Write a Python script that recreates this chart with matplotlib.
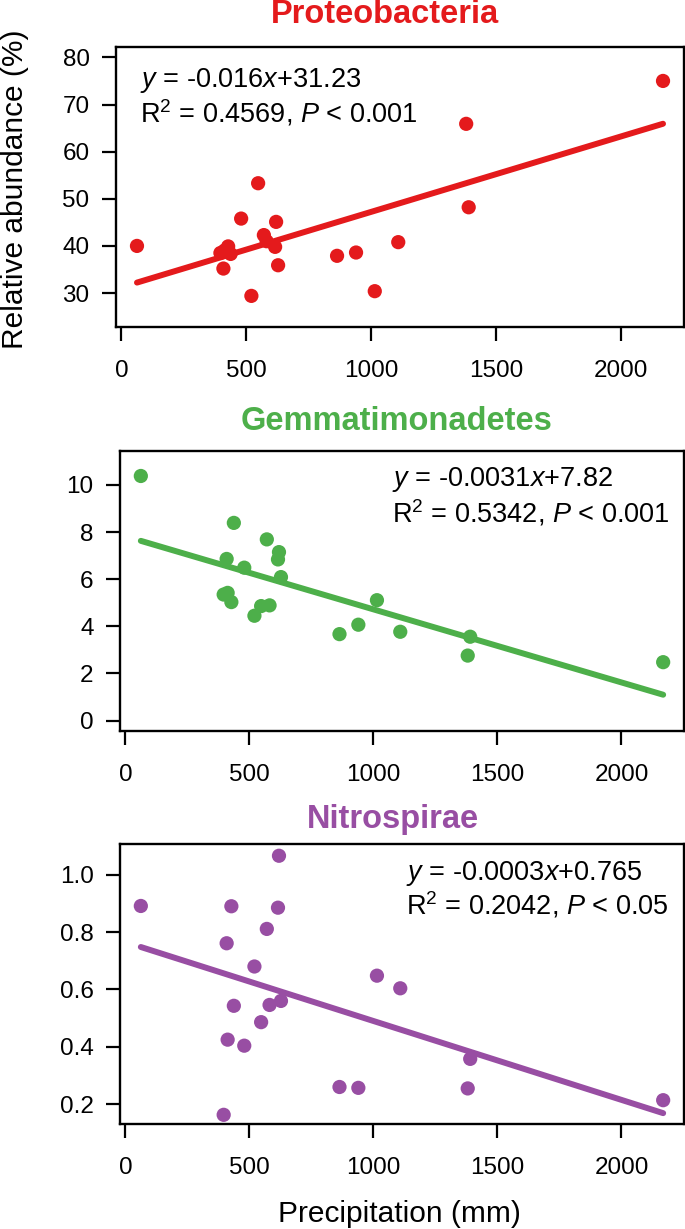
import matplotlib
matplotlib.use("Agg")
import matplotlib.pyplot as plt
import numpy as np

plt.rcParams['font.family'] = ['Liberation Sans', 'DejaVu Sans']
plt.rcParams['mathtext.fontset'] = 'custom'
plt.rcParams['mathtext.rm'] = 'Liberation Sans'
plt.rcParams['mathtext.it'] = 'Liberation Sans:italic'
plt.rcParams['mathtext.bf'] = 'Liberation Sans:bold'

# ---------------- data ----------------
precip = [62, 396, 408, 412, 427, 437, 479, 520, 547, 570, 581,
          615, 619, 627, 863, 939, 1014, 1108, 1380, 1390, 2168]

proteobacteria = [40.0, 38.5, 35.2, 39.0, 39.9, 38.3, 45.8, 29.4, 53.3, 42.3, 41.0,
                  39.8, 45.1, 35.9, 37.9, 38.6, 30.4, 40.8, 65.9, 48.2, 75.0]
gemmatimonadetes = [10.38, 5.35, 6.86, 5.42, 5.03, 8.39, 6.49, 4.45, 4.86, 7.69, 4.89,
                    6.84, 7.15, 6.09, 3.67, 4.07, 5.11, 3.77, 2.76, 3.56, 2.48]
nitrospirae = [0.891, 0.163, 0.761, 0.425, 0.890, 0.543, 0.404, 0.680, 0.486, 0.811, 0.546,
               0.885, 1.066, 0.560, 0.260, 0.257, 0.648, 0.604, 0.255, 0.358, 0.214]

titles = ["Proteobacteria", "Gemmatimonadetes", "Nitrospirae"]
colors = ["#E41A1C", "#4DAF4A", "#984EA3"]
slopes = [0.016, -0.0031, -0.000275]
intercepts = [31.23, 7.82, 0.765]
eq_texts = [r"$\it{y}$ = -0.016$\it{x}$+31.23",
            r"$\it{y}$ = -0.0031$\it{x}$+7.82",
            r"$\it{y}$ = -0.0003$\it{x}$+0.765"]
stat_texts = [r"R$^2$ = 0.4569, $\it{P}$ < 0.001",
              r"R$^2$ = 0.5342, $\it{P}$ < 0.001",
              r"R$^2$ = 0.2042, $\it{P}$ < 0.05"]
yticks_list = [[30, 40, 50, 60, 70, 80],
               [0, 2, 4, 6, 8, 10],
               [0.2, 0.4, 0.6, 0.8, 1.0]]
ytick_labels = [["30", "40", "50", "60", "70", "80"],
                ["0", "2", "4", "6", "8", "10"],
                ["0.2", "0.4", "0.6", "0.8", "1.0"]]
xticks = [0, 500, 1000, 1500, 2000]
xtick_labels = ["0", "500", "1000", "1500", "2000"]
series = [proteobacteria, gemmatimonadetes, nitrospirae]

# ---------------- layout (pixels) ----------------
W, H = 685, 1229
fig = plt.figure(figsize=(W / 100, H / 100), dpi=100)

boxes = [(116, 684, 47, 327), (120, 684, 451, 731), (120, 684, 844, 1124)]
ylims = [(22.8, 82.2), (-0.44, 11.44), (0.131, 1.107)]
title_pos = [(385, 23), (397, 430), (393, 828)]
ann_pos = [(140, 87, 123), (392, 486, 522), (406, 880, 915)]

def fx(px):
    return px / W

def fy(py):
    return 1 - py / H

for i in range(3):
    l, r, t, b = boxes[i]
    ax = fig.add_axes([fx(l), fy(b), (r - l) / W, (b - t) / H])
    xs = np.array(precip)
    ys = np.array(series[i])
    xl = np.array([xs.min(), xs.max()])
    ax.plot(xl, slopes[i] * xl + intercepts[i], color=colors[i], lw=4.3,
            solid_capstyle='round', zorder=2)
    ax.scatter(xs, ys, s=105, color=colors[i], edgecolors='none', zorder=3)
    ax.set_xlim(-22, 2252)
    ax.set_ylim(*ylims[i])
    ax.set_xticks(xticks)
    ax.set_xticklabels(xtick_labels)
    ax.set_yticks(yticks_list[i])
    ax.set_yticklabels(ytick_labels[i])
    for s in ax.spines.values():
        s.set_linewidth(1.7)
        s.set_color('black')
    ax.tick_params(axis='both', direction='out', length=10, width=1.6,
                   labelsize=17.5, colors='black')
    ax.tick_params(axis='x', pad=14)
    ax.tick_params(axis='y', pad=9)

    tx, ty = title_pos[i]
    fig.text(fx(tx), fy(ty), titles[i], color=colors[i], fontsize=23.5,
             fontweight='bold', ha='center', va='baseline')
    ax_x, b1, b2 = ann_pos[i]
    fig.text(fx(ax_x), fy(b1), eq_texts[i], fontsize=19.5, ha='left', va='baseline')
    fig.text(fx(ax_x), fy(b2), stat_texts[i], fontsize=19.5, ha='left', va='baseline')

fig.text(fx(15), fy(189), "Relative abundance (%)", rotation=90, fontsize=21.5,
         ha='center', va='center')
fig.text(fx(399), fy(1222), "Precipitation (mm)", fontsize=21.5,
         ha='center', va='baseline')

fig.savefig("out.png", dpi=100)
